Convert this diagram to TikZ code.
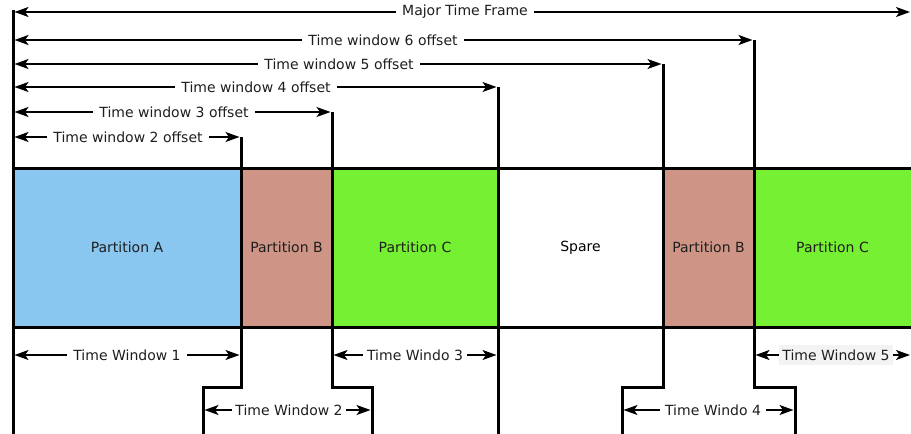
\documentclass[tikz,border=0pt]{standalone}
\usepackage{fontspec}
\setmainfont{DejaVu Sans}
\usetikzlibrary{arrows.meta}

\definecolor{partA}{RGB}{137,198,240}
\definecolor{partB}{RGB}{206,148,133}
\definecolor{partC}{RGB}{118,240,50}
\definecolor{inktext}{RGB}{30,30,30}
\definecolor{labelbg}{RGB}{243,243,243}

\tikzset{
  span/.style={line width=1.6pt,
    {Stealth[length=14pt,width=10pt,inset=3.5pt]}-{Stealth[length=14pt,width=10pt,inset=3.5pt]}},
  wall/.style={line width=3pt},
  lbl/.style={fill=white, inner xsep=6pt, inner ysep=2pt, text=inktext,
              font=\fontsize{14}{16}\selectfont},
  part/.style={minimum height=159pt, inner sep=0pt, text=inktext,
               font=\fontsize{14}{16}\selectfont},
}

\begin{document}
\begin{tikzpicture}[x=1pt,y=-1pt]
\useasboundingbox (0,0) rectangle (911,434);

% partition slots of the major time frame
\node[part, fill=partA, minimum width=228pt] (pA)  at (127,247.5) {Partition A};
\node[part, fill=partB, minimum width=91pt]  (pB1) at (286.5,247.5) {Partition B};
\node[part, fill=partC, minimum width=166pt] (pC1) at (415,247.5) {Partition C};
\node[part, fill=white, minimum width=165pt, text=black] (sp) at (580.5,247.5) {Spare};
\node[part, fill=partB, minimum width=91pt]  (pB2) at (708.5,247.5) {Partition B};
\node[part, fill=partC, minimum width=157pt] (pC2) at (832.5,247.5) {Partition C};

% frame edges
\coordinate (frameTL) at (13,168);
\coordinate (frameTR) at (911,168);
\coordinate (frameBL) at (13,327);
\coordinate (frameBR) at (911,327);
\draw[wall] (frameTL) -- (frameTR);
\draw[wall] (frameBL) -- (frameBR);

% window boundaries
\coordinate (w0t) at (13,10);   \coordinate (w0b) at (13,434);
\coordinate (w2t) at (241,137); \coordinate (w2s) at (241,387);
\coordinate (w2j) at (203,387); \coordinate (w2b) at (203,434);
\coordinate (w3t) at (332,112); \coordinate (w3s) at (332,387);
\coordinate (w3j) at (372,387); \coordinate (w3b) at (372,434);
\coordinate (w4t) at (498,87);  \coordinate (w4b) at (498,434);
\coordinate (w5t) at (663,64);  \coordinate (w5s) at (663,387);
\coordinate (w5j) at (622,387); \coordinate (w5b) at (622,434);
\coordinate (w6t) at (754,40);  \coordinate (w6s) at (754,387);
\coordinate (w6j) at (795,387); \coordinate (w6b) at (795,434);

\draw[wall] (w0t) -- (w0b);
\draw[wall] (w2t) -- (w2s) -- (w2j) -- (w2b);
\draw[wall] (w3t) -- (w3s) -- (w3j) -- (w3b);
\draw[wall] (w4t) -- (w4b);
\draw[wall] (w5t) -- (w5s) -- (w5j) -- (w5b);
\draw[wall] (w6t) -- (w6s) -- (w6j) -- (w6b);

% offsets measured from the start of the major time frame
\coordinate (mfL) at (14.5,12);  \coordinate (mfR) at (910,12);
\coordinate (o6L) at (14.5,40);  \coordinate (o6R) at (752.5,40);
\coordinate (o5L) at (14.5,64);  \coordinate (o5R) at (661.5,64);
\coordinate (o4L) at (14.5,87);  \coordinate (o4R) at (496.5,87);
\coordinate (o3L) at (14.5,112); \coordinate (o3R) at (330.5,112);
\coordinate (o2L) at (14.5,137); \coordinate (o2R) at (239.5,137);

\draw[span] (mfL) -- (mfR);
\node[lbl] (mfT) at (465,12)  {Major Time Frame};
\draw[span, line width=2.2pt] (o6L) -- (o6R);
\node[lbl] (o6T) at (383,40)  {Time window 6 offset};
\draw[span] (o5L) -- (o5R);
\node[lbl] (o5T) at (339,64)  {Time window 5 offset};
\draw[span] (o4L) -- (o4R);
\node[lbl] (o4T) at (256,87)  {Time window 4 offset};
\draw[span] (o3L) -- (o3R);
\node[lbl] (o3T) at (174,112) {Time window 3 offset};
\draw[span] (o2L) -- (o2R);
\node[lbl] (o2T) at (128,137) {Time window 2 offset};

% window durations
\coordinate (t1L) at (14.5,355);  \coordinate (t1R) at (239.5,355);
\coordinate (t3L) at (333.5,355); \coordinate (t3R) at (496.5,355);
\coordinate (t5L) at (755.5,355); \coordinate (t5R) at (910,355);
\coordinate (t2L) at (204.5,410); \coordinate (t2R) at (370.5,410);
\coordinate (t4L) at (623.5,410); \coordinate (t4R) at (793.5,410);

\draw[span] (t1L) -- (t1R);
\node[lbl] (t1T) at (127,355) {Time Window 1};
\draw[span] (t3L) -- (t3R);
\node[lbl, inner xsep=4pt] (t3T) at (415,355) {Time Windo 3};
\draw[span] (t5L) -- (t5R);
\node[lbl, fill=labelbg, inner xsep=3pt, inner ysep=5pt] (t5T) at (836,355) {Time Window 5};
\draw[span] (t2L) -- (t2R);
\node[lbl, inner xsep=3pt] (t2T) at (289,410) {Time Window 2};
\draw[span] (t4L) -- (t4R);
\node[lbl, inner xsep=5pt] (t4T) at (713,410) {Time Windo 4};

\end{tikzpicture}
\end{document}
